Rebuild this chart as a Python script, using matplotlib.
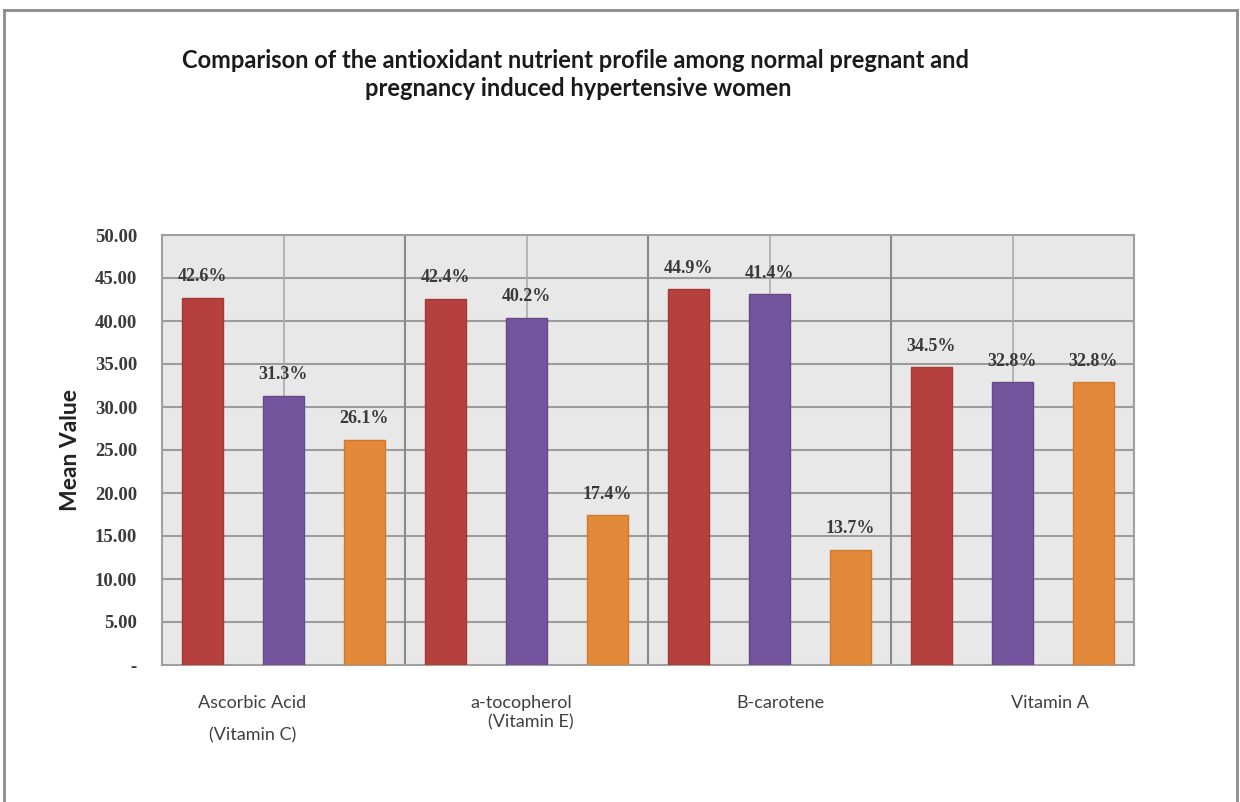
import matplotlib
matplotlib.use("Agg")
import matplotlib.pyplot as plt
import numpy as np
from matplotlib.lines import Line2D
from matplotlib.transforms import blended_transform_factory

# data
categories = ["Ascorbic Acid", "a-tocopherol", "B-carotene", "Vitamin A"]
subnames = ["(Vitamin C)", "(Vitamin E)", "", ""]
red_vals = [42.7, 42.6, 43.7, 34.6]
purple_vals = [31.3, 40.4, 43.1, 32.9]
orange_vals = [26.2, 17.4, 13.4, 32.9]
red_labels = ["42.6%", "42.4%", "44.9%", "34.5%"]
purple_labels = ["31.3%", "40.2%", "41.4%", "32.8%"]
orange_labels = ["26.1%", "17.4%", "13.7%", "32.8%"]
yticks = [0, 5, 10, 15, 20, 25, 30, 35, 40, 45, 50]

title1 = "Comparison of the antioxidant nutrient profile among normal pregnant and"
title2 = "pregnancy induced hypertensive women"

W, H = 1240, 802
fig = plt.figure(figsize=(12.4, 8.02), dpi=100)
fig.patch.set_facecolor("white")

# outer frame (top, left, right)
for xs, ys in [([4, 1237], [10, 10]), ([4, 4], [10, 802]), ([1237, 1237], [10, 802])]:
    fig.add_artist(Line2D([x / W for x in xs], [1 - y / H for y in ys],
                          color="#8c8c8c", lw=2))

ax = fig.add_axes([162 / W, 1 - 665 / H, (1134 - 162) / W, (665 - 235) / H])
ax.set_facecolor("#e8e8e8")

x = np.arange(len(categories))
bw = 0.17
off = 1 / 3
cols = ["#b5403e", "#74549c", "#e2893a"]
edges = ["#a33835", "#66488c", "#d07a2e"]
series = [(red_vals, red_labels), (purple_vals, purple_labels), (orange_vals, orange_labels)]

ax.set_xlim(-0.5, len(categories) - 0.5)
ax.set_ylim(0, 50)

# grid
for yv in yticks[1:-1]:
    ax.axhline(yv, color="#9c9c9c", lw=1.5, zorder=1)
for xv in x:
    ax.axvline(xv, color="#ababab", lw=1.2, zorder=1)
for xv in x[:-1] + 0.5:
    ax.axvline(xv, color="#8a8a8a", lw=1.5, zorder=1)

for i, (vals, labs) in enumerate(series):
    pos = x + (i - 1) * off
    bars = ax.bar(pos, vals, width=bw, color=cols[i], edgecolor=edges[i],
                  lw=1, zorder=3)
    for b, lab in zip(bars, labs):
        ax.annotate(lab, (b.get_x() + b.get_width() / 2, b.get_height()),
                    xytext=(0, 21), textcoords="offset pixels",
                    ha="center", va="center", fontsize=13,
                    family="Liberation Serif", fontweight="bold",
                    color="#3a3a3a", zorder=4)

ax.set_yticks(yticks)
ax.set_yticklabels(["-" if v == 0 else f"{v:.2f}" for v in yticks],
                   family="Liberation Serif", fontweight="bold",
                   fontsize=13.5, color="#3a3a3a")
ax.tick_params(axis="y", length=0, pad=18)
ax.set_xticks([])
for s in ax.spines.values():
    s.set_color("#a0a0a0")
    s.set_linewidth(1.5)

ax.set_ylabel("Mean Value", family="Lato", fontweight="bold", fontsize=16.5,
              color="#222222")
ax.yaxis.set_label_coords(-0.083, 0.5)

# category labels (placed under the groups as in the picture)
tr = blended_transform_factory(ax.transData, ax.transAxes)
cat_shift = [-0.13, -0.023, 0.047, 0.154]
sub_shift = [-0.126, 0.019, 0, 0]
sub_y = [-0.163, -0.133, 0, 0]
for i, name in enumerate(categories):
    ax.text(x[i] + cat_shift[i], -0.088, name, transform=tr, ha="center",
            va="center", fontsize=13, family="Lato", color="#404040")
    if subnames[i]:
        ax.text(x[i] + sub_shift[i], sub_y[i], subnames[i], transform=tr,
                ha="center", va="center", fontsize=13, family="Lato",
                color="#404040")

fig.text(575 / W, 1 - 60 / H, title1, ha="center", va="center",
         fontsize=17, family="Lato", fontweight="bold", color="#1a1a1a")
fig.text(578 / W, 1 - 88 / H, title2, ha="center", va="center",
         fontsize=17, family="Lato", fontweight="bold", color="#1a1a1a")

fig.savefig("out.png", dpi=100)
